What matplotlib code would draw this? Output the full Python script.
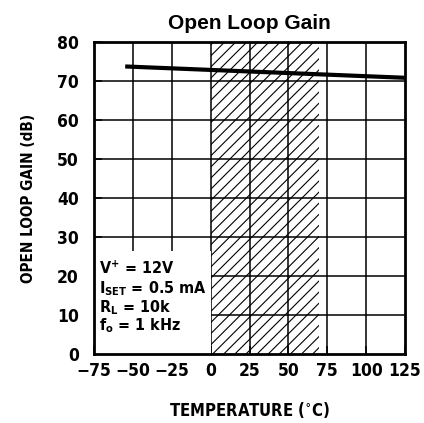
import matplotlib
matplotlib.use("Agg")
from matplotlib import pyplot as plt
from matplotlib.patches import Rectangle

plt.rcParams["font.family"] = ["DejaVu Sans"]
plt.rcParams["font.stretch"] = "condensed"
plt.rcParams["font.weight"] = "bold"
plt.rcParams["axes.labelweight"] = "bold"
plt.rcParams["axes.titleweight"] = "bold"
plt.rcParams["mathtext.fontset"] = "custom"
plt.rcParams["mathtext.rm"] = "DejaVu Sans:bold:stretch=condensed"
plt.rcParams["mathtext.default"] = "rm"
plt.rcParams["hatch.linewidth"] = 0.8

# data
temp = [-55, 125]
gain = [73.7, 70.8]
x_ticks = [-75, -50, -25, 0, 25, 50, 75, 100, 125]
y_ticks = [0, 10, 20, 30, 40, 50, 60, 70, 80]
hatch_span = (0, 70)
note_lines = [r"V$^{+}$ = 12V", r"I$_{SET}$ = 0.5 mA", r"R$_{L}$ = 10k", r"f$_{o}$ = 1 kHz"]


def main():
    fig = plt.figure(figsize=(4.24, 4.23), dpi=100)
    ax = fig.add_axes([0.222, 0.163, 0.733, 0.738])

    ax.set_xlim(x_ticks[0], x_ticks[-1])
    ax.set_ylim(y_ticks[0], y_ticks[-1])

    # grid drawn by hand so the note box can cover it
    for x in x_ticks[1:-1]:
        ax.axvline(x, color="black", lw=1.1, zorder=1)
    for y in y_ticks[1:-1]:
        ax.axhline(y, color="black", lw=1.1, zorder=1)

    ax.add_patch(Rectangle((hatch_span[0], 0), hatch_span[1] - hatch_span[0], 80,
                           facecolor="none", edgecolor="black", hatch="///",
                           lw=0, zorder=0.5))

    ax.add_patch(Rectangle((-75, 0), 75, 26.5, facecolor="white",
                           edgecolor="none", zorder=2))

    ax.plot(temp, gain, color="black", lw=3, solid_capstyle="butt", zorder=4)

    # conditions note, one line at a time
    for i, line in enumerate(note_lines):
        ax.text(-72, 20.4 - 4.8 * i, line, fontsize=11.5, va="baseline",
                ha="left", zorder=5)

    ax.set_xticks(x_ticks)
    ax.set_yticks(y_ticks)
    ax.set_xticklabels(["\u221275", "\u221250", "\u221225", "0", "25", "50", "75", "100", "125"])
    ax.tick_params(direction="in", length=6, width=1.1, labelsize=12.5, zorder=3)
    ax.tick_params(axis="x", pad=6)
    ax.tick_params(axis="y", pad=11)
    for s in ax.spines.values():
        s.set_linewidth(2)
        s.set_zorder(6)

    ax.set_title("Open Loop Gain", fontsize=15, fontweight="bold",
                 family="Liberation Sans", fontstretch="normal", pad=9)
    ax.set_xlabel("TEMPERATURE ($^{\\circ}$C)", fontsize=12, labelpad=14)
    ax.set_ylabel("OPEN LOOP GAIN (dB)", fontsize=11, labelpad=15)

    fig.savefig("out.png", dpi=100)


if __name__ == "__main__":
    main()
